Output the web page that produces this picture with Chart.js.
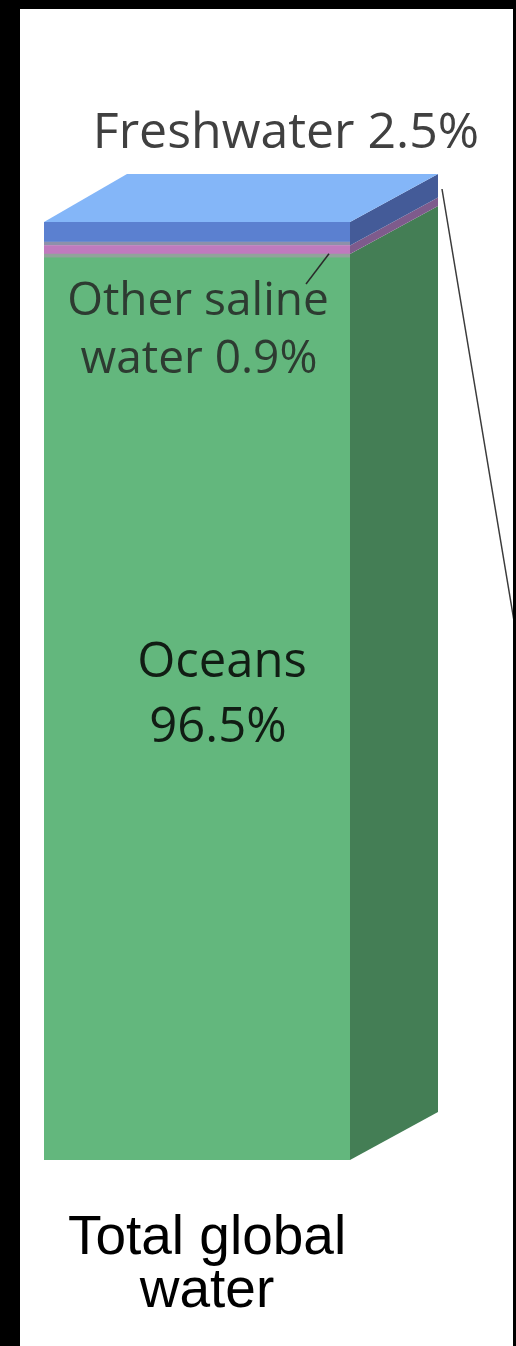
<!DOCTYPE html>
<html>
<head>
<meta charset="utf-8">
<script src="https://cdn.jsdelivr.net/npm/chart.js@4"></script>
<style>
    body { margin: 0; background: #000; }
    #wrap { position: absolute; left: 20px; top: 9px; width: 493px; height: 1337px; background: #fff; }
</style>
</head>
<body>
<div id="wrap"><canvas id="waterChart"></canvas></div>
<script>

const categories = [['Total global', 'water']];
const seriesNames = ['Oceans', 'Other saline water', 'Freshwater'];
const oceans = [96.5];
const otherSaline = [0.9];
const freshwater = [2.5];

// front / side / top shades, same order as seriesNames
const frontColors = ['#63b77d', '#c07abe', '#5b80d0'];
const sideColors = ['#447e55', '#7e5b8c', '#445b98'];
const topColor = '#84b6f8';

const fakeDepth = {
    id: 'fakeDepth',
    afterDatasetsDraw(chart) {
        const ctx = chart.ctx;
        const dxL = 83, dxR = 88, dy = -48;
        let topBar = null;
        chart.data.datasets.forEach((ds, i) => {
            const bar = chart.getDatasetMeta(i).data[0];
            const right = bar.x + bar.width / 2;
            ctx.save();
            ctx.fillStyle = sideColors[i];
            ctx.beginPath();
            ctx.moveTo(right, bar.y);
            ctx.lineTo(right + dxR, bar.y + dy);
            ctx.lineTo(right + dxR, bar.base + dy);
            ctx.lineTo(right, bar.base);
            ctx.closePath();
            ctx.fill();
            ctx.restore();
            topBar = bar;
        });
        const left = topBar.x - topBar.width / 2;
        const right = topBar.x + topBar.width / 2;
        ctx.save();
        ctx.fillStyle = topColor;
        ctx.beginPath();
        ctx.moveTo(left, topBar.y);
        ctx.lineTo(left + dxL, topBar.y + dy);
        ctx.lineTo(right + dxR, topBar.y + dy);
        ctx.lineTo(right, topBar.y);
        ctx.closePath();
        ctx.fill();
        ctx.restore();
    }
};

const segmentLabels = {
    id: 'segmentLabels',
    afterDraw(chart) {
        const ctx = chart.ctx;
        const top = chart.chartArea.top;
        const ocean = chart.getDatasetMeta(0).data[0];
        const saline = chart.getDatasetMeta(1).data[0];
        const fresh = chart.getDatasetMeta(2).data[0];
        const cx = ocean.x;
        const right = cx + ocean.width / 2;

        ctx.save();
        ctx.textAlign = 'center';
        ctx.textBaseline = 'alphabetic';

        ctx.font = '50px "Open Sans"';
        ctx.fillStyle = '#404040';
        ctx.fillText(seriesNames[2] + ' ' + freshwater[0] + '%', cx + 89, top - 74);

        ctx.font = '46px "Open Sans"';
        ctx.fillStyle = '#2d3b31';
        ctx.fillText('Other saline', cx + 1, top + 93);
        ctx.fillText('water ' + otherSaline[0] + '%', cx + 2, top + 151);

        ctx.font = '49px "Open Sans"';
        ctx.fillStyle = '#111d14';
        ctx.fillText(seriesNames[0], cx + 25, top + 455);
        ctx.fillText(oceans[0] + '%', cx + 21, top + 520);

        // leader lines
        ctx.strokeStyle = '#2a2a2a';
        ctx.lineWidth = 1.5;
        ctx.beginPath();
        ctx.moveTo(cx + 109, top + 62);
        ctx.lineTo(cx + 132, (saline.y + saline.base) / 2 + 4);
        ctx.stroke();

        ctx.strokeStyle = '#3a3a3a';
        ctx.beginPath();
        ctx.moveTo(right + 92, fresh.y - 33);
        ctx.lineTo(right + 170, fresh.y + 435);
        ctx.stroke();
        ctx.restore();
    }
};

const data = {
    labels: categories,
    datasets: [{
        label: seriesNames[0],
        data: oceans,
        backgroundColor: frontColors[0],
        borderColor: '#91a39b',
        borderWidth: {top: 4, bottom: 0, left: 0, right: 0},
        borderSkipped: false
    },
    {
        label: seriesNames[1],
        data: otherSaline,
        backgroundColor: frontColors[1],
        borderWidth: 0
    },
    {
        label: seriesNames[2],
        data: freshwater,
        backgroundColor: frontColors[2],
        borderColor: '#8e90aa',
        borderWidth: {top: 0, bottom: 4, left: 0, right: 0},
        borderSkipped: false
    }]
};

const config = {
    type: 'bar',
    data: data,
    plugins: [fakeDepth, segmentLabels],
    options: {
        animation: false,
        responsive: true,
        maintainAspectRatio: false,
        layout: {
            padding: {top: 213, left: 24, right: 163, bottom: 0}
        },
        datasets: {
            bar: {barPercentage: 1, categoryPercentage: 1}
        },
        plugins: {
            legend: {display: false},
            tooltip: {enabled: false}
        },
        scales: {
            x: {
                stacked: true,
                grid: {display: false},
                border: {display: false},
                ticks: {
                    color: '#000',
                    font: {family: '"Liberation Sans", Arial', size: 55, lineHeight: 0.964},
                    padding: 44,
                    labelOffset: 10,
                    maxRotation: 0
                },
                afterFit(scale) {
                    scale.height = 186;
                    scale.paddingLeft = 0;
                    scale.paddingRight = 0;
                }
            },
            y: {
                stacked: true,
                display: false,
                min: 0,
                max: 99.9
            }
        }
    }
};

new Chart(document.getElementById('waterChart'), config);
</script>
</body>
</html>
